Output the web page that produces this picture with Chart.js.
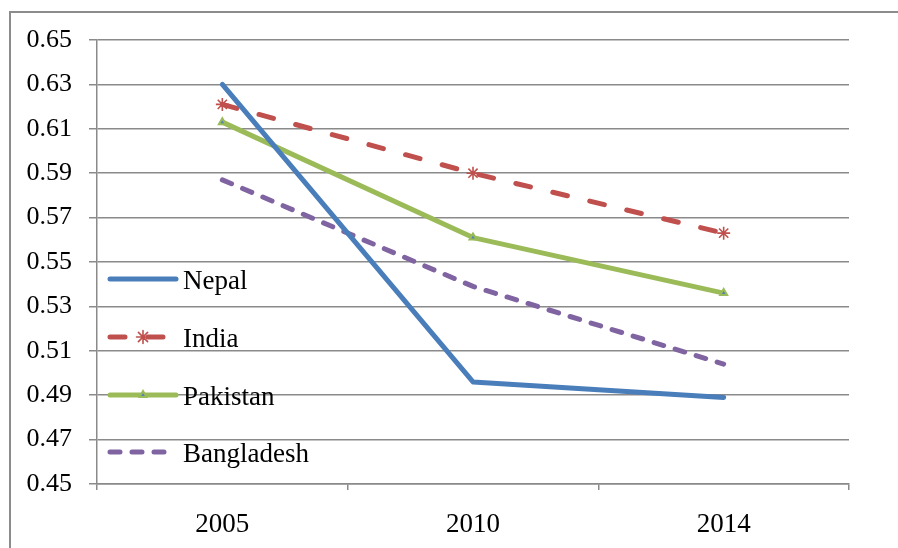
<!DOCTYPE html>
<html>
<head>
<meta charset="utf-8">
<style>
  html, body { margin: 0; padding: 0; background: #ffffff; }
  #wrap { position: relative; width: 898px; height: 548px; }
  canvas { display: block; }
</style>
<script src="https://cdn.jsdelivr.net/npm/chart.js@4/dist/chart.umd.min.js"></script>
</head>
<body>
<div id="wrap"><canvas id="c" width="898" height="548"></canvas></div>
<script>
// Categories and series
const years = ['2005', '2010', '2014'];
const nepal = [0.630, 0.496, 0.489];
const india = [0.621, 0.590, 0.563];
const pakistan = [0.613, 0.561, 0.536];
const bangladesh = [0.587, 0.539, 0.504];

// Value axis
const yMin = 0.45;
const yMax = 0.65;
const yStep = 0.02;

const FONT = 'Liberation Serif, "Times New Roman", serif';
const GRID = '#8a8a8a';

// Frame around the chart (top and left edges)
const framePlugin = {
  id: 'frame',
  beforeDraw(chart) {
    const ctx = chart.ctx;
    ctx.save();
    ctx.strokeStyle = '#8c8c8c';
    ctx.lineWidth = 2;
    ctx.beginPath();
    ctx.moveTo(10, 548);
    ctx.lineTo(10, 12);
    ctx.lineTo(898, 12);
    ctx.stroke();
    ctx.restore();
  }
};

// Legend drawn inside the plot area, at the left
const insideLegend = {
  id: 'insideLegend',
  afterDraw(chart) {
    const ctx = chart.ctx;
    const rows = [279, 337, 395, 452];
    const x0 = 110, x1 = 176, tx = 183;
    chart.data.datasets.forEach((ds, i) => {
      const y = rows[i];
      ctx.save();
      ctx.strokeStyle = ds.borderColor;
      ctx.lineWidth = ds.borderWidth;
      ctx.lineCap = 'round';
      ctx.setLineDash(ds.borderDash || []);
      ctx.beginPath();
      ctx.moveTo(x0, y);
      ctx.lineTo(x1, y);
      ctx.stroke();
      ctx.setLineDash([]);
      if (ds.pointRadius > 0) {
        ctx.fillStyle = ds.pointBackgroundColor;
        ctx.strokeStyle = ds.pointBorderColor;
        ctx.lineWidth = ds.pointBorderWidth;
        Chart.helpers.drawPoint(ctx, {
          pointStyle: ds.pointStyle,
          radius: ds.pointRadius,
          borderWidth: ds.pointBorderWidth,
          rotation: 0
        }, (x0 + x1) / 2, y);
      }
      ctx.fillStyle = '#000000';
      ctx.font = '27px ' + FONT;
      ctx.textBaseline = 'alphabetic';
      ctx.textAlign = 'left';
      ctx.fillText(ds.label, tx, y + 10);
      ctx.restore();
    });
  }
};

new Chart(document.getElementById('c'), {
  type: 'line',
  data: {
    labels: years,
    datasets: [
      {
        label: 'Nepal',
        data: nepal,
        borderColor: '#4a7ebb',
        borderWidth: 5,
        pointRadius: 0,
        borderCapStyle: 'round',
        borderJoinStyle: 'round'
      },
      {
        label: 'India',
        data: india,
        borderColor: '#c0504d',
        borderWidth: 5,
        borderDash: [15, 23],
        borderCapStyle: 'round',
        pointStyle: 'star',
        pointRadius: 6.5,
        pointBorderWidth: 1.6,
        pointBackgroundColor: '#c0504d',
        pointBorderColor: '#c0504d'
      },
      {
        label: 'Pakistan',
        data: pakistan,
        borderColor: '#9bbb59',
        borderWidth: 5,
        borderCapStyle: 'round',
        borderJoinStyle: 'round',
        pointStyle: 'triangle',
        pointRadius: 4,
        pointBorderWidth: 2,
        pointBackgroundColor: '#4f81bd',
        pointBorderColor: '#9bbb59'
      },
      {
        label: 'Bangladesh',
        data: bangladesh,
        borderColor: '#8064a2',
        borderWidth: 5,
        borderDash: [10, 12],
        borderCapStyle: 'round',
        pointRadius: 0
      }
    ]
  },
  options: {
    responsive: false,
    animation: false,
    events: [],
    layout: {
      autoPadding: false,
      padding: { left: 0, top: 40, right: 49, bottom: 0 }
    },
    plugins: {
      legend: { display: false },
      tooltip: { enabled: false }
    },
    scales: {
      x: {
        type: 'category',
        offset: true,
        afterFit(scale) { scale.height = 64; },
        grid: {
          offset: true,
          drawOnChartArea: false,
          drawTicks: true,
          tickLength: 6,
          color: GRID,
          lineWidth: 1.5
        },
        border: { color: GRID, width: 1.5 },
        ticks: {
          color: '#000000',
          padding: 19,
          font: { family: FONT, size: 27 },
          maxRotation: 0
        }
      },
      y: {
        min: yMin,
        max: yMax,
        afterFit(scale) { scale.width = 97; },
        grid: {
          color: GRID,
          lineWidth: 1.5,
          tickLength: 8
        },
        border: { color: GRID, width: 1.5 },
        ticks: {
          stepSize: yStep,
          color: '#000000',
          padding: 17,
          font: { family: FONT, size: 26 },
          callback: (v) => Number(v).toFixed(2)
        }
      }
    }
  },
  plugins: [framePlugin, insideLegend]
});
</script>
</body>
</html>
